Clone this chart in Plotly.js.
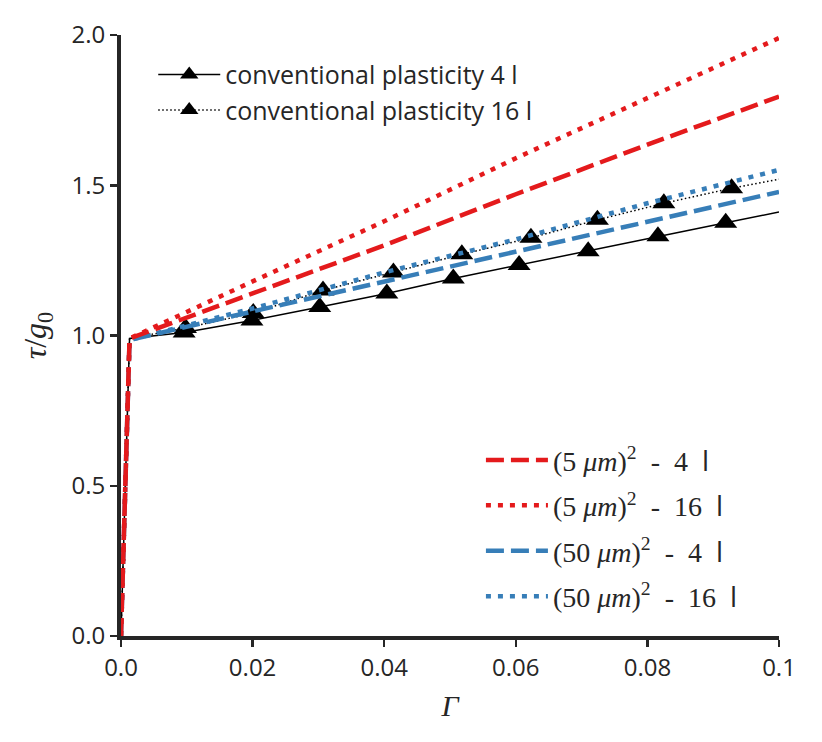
<!DOCTYPE html>
<html>
<head>
<meta charset="utf-8">
<script src="https://cdn.plot.ly/plotly-3.0.1.min.js"></script>
<style>
  body { margin: 0; background: #fff; }
  #plot { width: 822px; height: 742px; }
</style>
</head>
<body>
<div id="plot"></div>
<script>
// shear strain values
const gammaGrid = [0, 0.0013, 0.02, 0.04, 0.06, 0.08, 0.1];
const tauGrain5_4 = [0, 0.99, 1.14, 1.30, 1.47, 1.635, 1.795];
const tauGrain5_16 = [0, 0.99, 1.18, 1.38, 1.59, 1.79, 1.99];
const tauGrain50_4 = [0, 0.985, 1.08, 1.18, 1.28, 1.38, 1.478];
const tauGrain50_16 = [0, 0.985, 1.09, 1.21, 1.32, 1.44, 1.551];

// conventional plasticity, marker points
const gammaYield = [0, 0.0013];
const tauYield = [0, 0.99];
const gammaEnd = 0.1;
const gammaCp4 = [0.0096, 0.0199, 0.0302, 0.0404, 0.0505, 0.0605, 0.0710, 0.0816, 0.0919];
const tauCp4 = [1.01, 1.05, 1.095, 1.14, 1.19, 1.235, 1.28, 1.33, 1.375];
const tauCp4End = 1.411;
const gammaCp16 = [0.0098, 0.0201, 0.0307, 0.0414, 0.0518, 0.0623, 0.0724, 0.0825, 0.0928];
const tauCp16 = [1.025, 1.075, 1.15, 1.21, 1.27, 1.325, 1.385, 1.44, 1.49];
const tauCp16End = 1.52;

const xTicks = [0, 0.02, 0.04, 0.06, 0.08, 0.1];
const xTickText = ['0.0', '0.02', '0.04', '0.06', '0.08', '0.1'];
const yTicks = [0, 0.5, 1.0, 1.5, 2.0];

const RED = '#e41a1c';
const BLUE = '#377eb8';
const INK = '#262626';
const SERIF = 'Liberation Serif, DejaVu Serif, serif';
const SANS = 'Open Sans, Lato, DejaVu Sans, sans-serif';
const NB = '\u00a0';

function grainLabel(size, n) {
    return '(' + size + NB + '<i>μm</i>)<sup>2</sup>' + NB + NB + '-' + NB + NB + n + NB +
        ' <span style="font-family:' + SANS + '">l</span>';
}

// line pieces outside the marker span (elastic part + tail)
function tailTrace(gm, tm, tEnd, lineStyle) {
    return {
        x: gammaYield.concat([gm[0], null, gm[gm.length - 1], gammaEnd]),
        y: tauYield.concat([tm[0], null, tm[tm.length - 1], tEnd]),
        mode: 'lines',
        line: lineStyle,
        showlegend: false,
        hoverinfo: 'skip'
    };
}

const cpSolid = {color: 'black', width: 1.5};
const cpDot = {color: 'black', width: 1.5, dash: '1.5px,2.5px'};
const tri = {symbol: 'triangle-up', size: 20, color: 'black'};

const traces = [
    tailTrace(gammaCp4, tauCp4, tauCp4End, cpSolid),
    {
        x: gammaCp4, y: tauCp4,
        mode: 'lines+markers',
        name: 'conventional plasticity 4 l',
        line: cpSolid, marker: tri,
        legend: 'legend'
    },
    tailTrace(gammaCp16, tauCp16, tauCp16End, cpDot),
    {
        x: gammaCp16, y: tauCp16,
        mode: 'lines+markers',
        name: 'conventional plasticity 16 l',
        line: cpDot, marker: tri,
        legend: 'legend'
    },
    {
        x: gammaGrid, y: tauGrain50_4,
        mode: 'lines',
        name: grainLabel(50, 4),
        line: {color: BLUE, width: 4.5, dash: '18px,7px'},
        legend: 'legend2', legendgroup: 'c', legendrank: 3
    },
    {
        x: gammaGrid, y: tauGrain50_16,
        mode: 'lines',
        name: grainLabel(50, 16),
        line: {color: BLUE, width: 4.5, dash: '5px,7px'},
        legend: 'legend2', legendgroup: 'd', legendrank: 4
    },
    {
        x: gammaGrid, y: tauGrain5_16,
        mode: 'lines',
        name: grainLabel(5, 16),
        line: {color: RED, width: 4.5, dash: '5px,7px'},
        legend: 'legend2', legendgroup: 'b', legendrank: 2
    },
    {
        x: gammaGrid, y: tauGrain5_4,
        mode: 'lines',
        name: grainLabel(5, 4),
        line: {color: RED, width: 4.5, dash: '18px,7px'},
        legend: 'legend2', legendgroup: 'a', legendrank: 1
    }
];

const axisCommon = {
    showline: true,
    linewidth: 4,
    linecolor: INK,
    ticks: 'outside',
    ticklen: 7,
    tickwidth: 2.5,
    tickcolor: INK,
    showgrid: false,
    zeroline: false,
    tickfont: {family: SANS, size: 24, color: INK}
};

const layout = {
    width: 822,
    height: 742,
    margin: {l: 121, r: 43, t: 35, b: 106},
    paper_bgcolor: 'white',
    plot_bgcolor: 'white',
    font: {family: SANS, color: INK},
    xaxis: Object.assign({}, axisCommon, {
        range: [0, 0.1],
        tickvals: xTicks,
        ticktext: xTickText,
        title: {text: '<i>Γ</i>', font: {family: SERIF, size: 30, color: INK}, standoff: 14}
    }),
    yaxis: Object.assign({}, axisCommon, {
        range: [0, 2],
        tickvals: yTicks,
        tickformat: '.1f',
        title: {text: '<i>τ</i>/<i>g</i><sub>0</sub>', font: {family: SERIF, size: 32, color: INK}, standoff: 16}
    }),
    legend: {
        x: 0.049, y: 0.972,
        xanchor: 'left', yanchor: 'top',
        bgcolor: 'rgba(0,0,0,0)',
        itemwidth: 62,
        font: {family: SANS, size: 25, color: INK}
    },
    legend2: {
        x: 0.547, y: 0.334,
        xanchor: 'left', yanchor: 'top',
        bgcolor: 'rgba(0,0,0,0)',
        itemwidth: 62,
        traceorder: 'grouped',
        tracegroupgap: 6,
        font: {family: SERIF, size: 28, color: INK}
    },
    showlegend: true
};

Plotly.newPlot('plot', traces, layout, {displayModeBar: false, staticPlot: true});
</script>
</body>
</html>
